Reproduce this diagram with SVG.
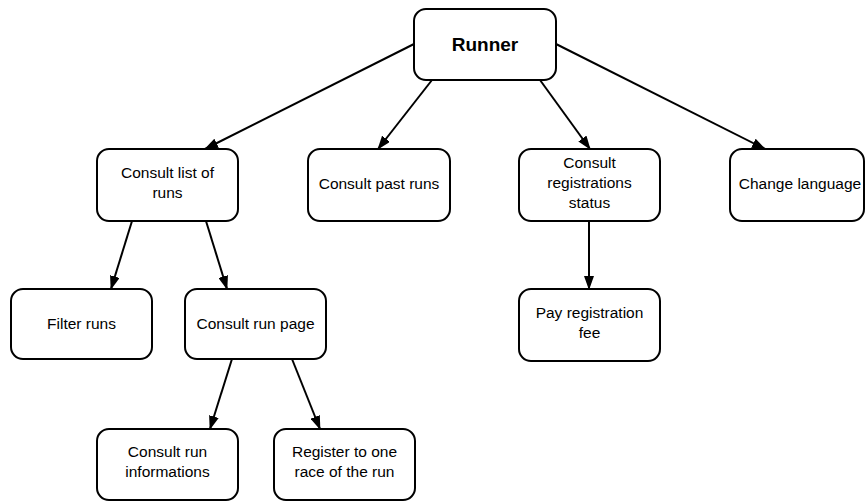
<svg xmlns="http://www.w3.org/2000/svg" width="865" height="501" viewBox="0 0 865 501">
  <style>
    .box { fill: #ffffff; stroke: #000000; stroke-width: 2; }
    .lbl { font-family: "Liberation Sans", Arial, sans-serif; font-size: 15.5px; fill: #000000; text-anchor: middle; }
    .title { font-family: "Liberation Sans", Arial, sans-serif; font-size: 19px; font-weight: bold; fill: #000000; text-anchor: middle; }
    .edge { stroke: #000000; stroke-width: 2; fill: none; marker-end: url(#arrow); }
  </style>
  <defs>
    <marker id="arrow" viewBox="0 0 14 10" refX="13" refY="5" markerWidth="14" markerHeight="10" markerUnits="userSpaceOnUse" orient="auto">
      <path d="M0,0 L14,5 L0,10 Z" fill="#000000"/>
    </marker>
  </defs>

  <rect width="865" height="501" fill="#ffffff"/>

  <g id="connectors">
    <line class="edge" x1="414" y1="44" x2="205" y2="149"/>
    <line class="edge" x1="432" y1="80" x2="378" y2="149"/>
    <line class="edge" x1="540" y1="80" x2="590" y2="149"/>
    <line class="edge" x1="556" y1="44" x2="765" y2="149"/>
    <line class="edge" x1="132" y1="221" x2="111" y2="289"/>
    <line class="edge" x1="206" y1="221" x2="227" y2="289"/>
    <line class="edge" x1="589" y1="221" x2="589" y2="289"/>
    <line class="edge" x1="232" y1="359" x2="210" y2="429"/>
    <line class="edge" x1="292" y1="359" x2="320" y2="429"/>
  </g>

  <g id="runner">
    <rect class="box" x="414" y="9" width="142" height="71" rx="12"/>
    <text class="title" x="485" y="51">Runner</text>
  </g>

  <g id="consult-list">
    <rect class="box" x="97" y="149" width="141" height="72" rx="12"/>
    <text class="lbl" x="167.5" y="178">Consult list of</text>
    <text class="lbl" x="167.5" y="198">runs</text>
  </g>

  <g id="consult-past">
    <rect class="box" x="308" y="149" width="142" height="72" rx="12"/>
    <text class="lbl" x="379" y="189">Consult past runs</text>
  </g>

  <g id="consult-status">
    <rect class="box" x="519" y="149" width="141" height="72" rx="12"/>
    <text class="lbl" x="589.5" y="168">Consult</text>
    <text class="lbl" x="589.5" y="188">registrations</text>
    <text class="lbl" x="589.5" y="208">status</text>
  </g>

  <g id="change-language">
    <rect class="box" x="730" y="149" width="134" height="72" rx="12"/>
    <text class="lbl" x="800" y="189">Change language</text>
  </g>

  <g id="filter-runs">
    <rect class="box" x="11" y="289" width="141" height="70" rx="12"/>
    <text class="lbl" x="81.5" y="329">Filter runs</text>
  </g>

  <g id="run-page">
    <rect class="box" x="185" y="289" width="141" height="70" rx="12"/>
    <text class="lbl" x="255.5" y="329">Consult run page</text>
  </g>

  <g id="pay-fee">
    <rect class="box" x="519" y="289" width="141" height="72" rx="12"/>
    <text class="lbl" x="589.5" y="318">Pay registration</text>
    <text class="lbl" x="589.5" y="338">fee</text>
  </g>

  <g id="run-info">
    <rect class="box" x="97" y="429" width="141" height="71" rx="12"/>
    <text class="lbl" x="167.5" y="457">Consult run</text>
    <text class="lbl" x="167.5" y="477">informations</text>
  </g>

  <g id="register-race">
    <rect class="box" x="274" y="429" width="141" height="71" rx="12"/>
    <text class="lbl" x="344.5" y="457">Register to one</text>
    <text class="lbl" x="344.5" y="477">race of the run</text>
  </g>
</svg>
